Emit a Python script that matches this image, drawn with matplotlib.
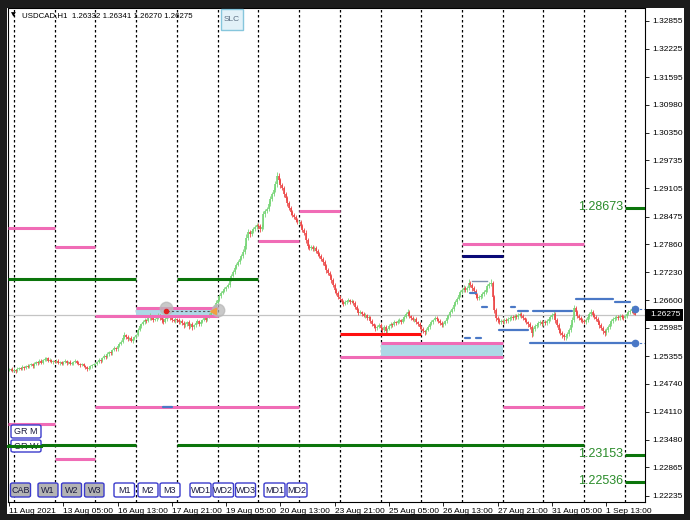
import matplotlib
matplotlib.use("Agg")
import matplotlib.pyplot as plt
from matplotlib.patches import Rectangle, FancyBboxPatch
import numpy as np

plt.rcParams['font.family'] = ['Liberation Sans', 'DejaVu Sans']

# ---------------- data ----------------
symbol_title = "USDCAD,H1  1.26332 1.26341 1.26270 1.26275"
last_price = 1.26275

days = ['11 Aug', '12 Aug', '13 Aug', '16 Aug', '17 Aug', '18 Aug', '19 Aug', '20 Aug',
        '23 Aug', '24 Aug', '25 Aug', '26 Aug', '27 Aug', '30 Aug', '31 Aug', '1 Sep', '2 Sep']

# hourly closes per trading day
c0811 = [1.2505, 1.2507, 1.2502]
c0812 = [1.2505, 1.2502, 1.2507, 1.2509, 1.2507, 1.2511, 1.2509, 1.2513, 1.2511, 1.2516, 1.2518, 1.2513,
         1.2518, 1.2522, 1.2520, 1.2525, 1.2520, 1.2527, 1.2529, 1.2531, 1.2525, 1.2527, 1.2522, 1.2525]
c0813 = [1.2522, 1.2525, 1.2520, 1.2522, 1.2518, 1.2522, 1.2525, 1.2520, 1.2522, 1.2518, 1.2520, 1.2522,
         1.2525, 1.2520, 1.2518, 1.2516, 1.2518, 1.2513, 1.2511, 1.2507, 1.2509, 1.2513, 1.2516, 1.2518]
c0816 = [1.2518, 1.2522, 1.2527, 1.2525, 1.2531, 1.2536, 1.2533, 1.2540, 1.2545, 1.2542, 1.2549, 1.2554,
         1.2551, 1.2558, 1.2563, 1.2567, 1.2576, 1.2583, 1.2578, 1.2574, 1.2576, 1.2569, 1.2574, 1.2578]
c0817 = [1.2583, 1.2594, 1.2603, 1.2607, 1.2612, 1.2616, 1.2614, 1.2621, 1.2625, 1.2621, 1.2616, 1.2618,
         1.2623, 1.2627, 1.2621, 1.2616, 1.2612, 1.2618, 1.2623, 1.2625, 1.2621, 1.2616, 1.2614, 1.2618]
c0818 = [1.2616, 1.2612, 1.2614, 1.2610, 1.2605, 1.2607, 1.2612, 1.2603, 1.2607, 1.2601, 1.2605, 1.2610,
         1.2614, 1.2607, 1.2612, 1.2616, 1.2621, 1.2616, 1.2623, 1.2627, 1.2632, 1.2639, 1.2645, 1.2654]
c0819 = [1.2661, 1.2670, 1.2677, 1.2681, 1.2686, 1.2690, 1.2695, 1.2706, 1.2715, 1.2724, 1.2733, 1.2739,
         1.2746, 1.2753, 1.2759, 1.2768, 1.2782, 1.2800, 1.2813, 1.2809, 1.2815, 1.2820, 1.2824, 1.2829]
c0820 = [1.2826, 1.2820, 1.2824, 1.2853, 1.2860, 1.2864, 1.2876, 1.2887, 1.2898, 1.2907, 1.2920, 1.2938,
         1.2929, 1.2918, 1.2911, 1.2898, 1.2889, 1.2878, 1.2867, 1.2858, 1.2851, 1.2846, 1.2840, 1.2835]
c0823 = [1.2835, 1.2826, 1.2818, 1.2811, 1.2795, 1.2782, 1.2777, 1.2779, 1.2775, 1.2777, 1.2771, 1.2764,
         1.2759, 1.2753, 1.2746, 1.2737, 1.2728, 1.2721, 1.2715, 1.2706, 1.2695, 1.2683, 1.2677, 1.2668]
c0824 = [1.2663, 1.2657, 1.2652, 1.2657, 1.2659, 1.2661, 1.2657, 1.2659, 1.2654, 1.2645, 1.2639, 1.2632,
         1.2634, 1.2630, 1.2625, 1.2627, 1.2621, 1.2623, 1.2614, 1.2607, 1.2603, 1.2598, 1.2601, 1.2605]
c0825 = [1.2598, 1.2594, 1.2601, 1.2592, 1.2596, 1.2603, 1.2607, 1.2605, 1.2612, 1.2610, 1.2614, 1.2616,
         1.2612, 1.2618, 1.2623, 1.2630, 1.2634, 1.2625, 1.2621, 1.2616, 1.2618, 1.2612, 1.2607, 1.2601]
c0826 = [1.2596, 1.2592, 1.2589, 1.2594, 1.2601, 1.2607, 1.2612, 1.2616, 1.2621, 1.2618, 1.2614, 1.2610,
         1.2605, 1.2607, 1.2614, 1.2621, 1.2627, 1.2634, 1.2641, 1.2650, 1.2657, 1.2663, 1.2672, 1.2679]
c0827 = [1.2683, 1.2688, 1.2683, 1.2688, 1.2699, 1.2695, 1.2688, 1.2681, 1.2672, 1.2665, 1.2668, 1.2670,
         1.2674, 1.2679, 1.2683, 1.2692, 1.2697, 1.2699, 1.2668, 1.2639, 1.2621, 1.2616, 1.2612, 1.2614]
c0830 = [1.2612, 1.2616, 1.2614, 1.2618, 1.2621, 1.2623, 1.2621, 1.2625, 1.2623, 1.2627, 1.2630, 1.2625,
         1.2621, 1.2616, 1.2612, 1.2607, 1.2601, 1.2587, 1.2596, 1.2603, 1.2605, 1.2610, 1.2612, 1.2607]
c0831 = [1.2612, 1.2610, 1.2614, 1.2618, 1.2623, 1.2627, 1.2630, 1.2616, 1.2605, 1.2594, 1.2587, 1.2583,
         1.2578, 1.2580, 1.2585, 1.2594, 1.2605, 1.2616, 1.2643, 1.2634, 1.2625, 1.2621, 1.2616, 1.2614]
c0901 = [1.2612, 1.2616, 1.2623, 1.2630, 1.2634, 1.2627, 1.2623, 1.2618, 1.2612, 1.2605, 1.2598, 1.2592,
         1.2587, 1.2594, 1.2601, 1.2607, 1.2614, 1.2618, 1.2621, 1.2623, 1.2621, 1.2625, 1.2623, 1.2621]
c0902 = [1.2625, 1.2630, 1.2634, 1.2636, 1.2641, 1.26332, 1.26275]

day_closes = [c0811, c0812, c0813, c0816, c0817, c0818, c0819, c0820, c0823, c0824,
              c0825, c0826, c0827, c0830, c0831, c0901, c0902]

# upper / lower wick length beyond the body, in pips, one line per trading day
wick_up_pips = [
    3, 2, 4,
    3, 2, 4, 2, 3, 5, 2, 3, 4, 2, 3, 3, 4, 2, 3, 5, 3, 2, 4, 3, 2, 4, 3, 2,
    2, 3, 4, 3, 2, 3, 4, 2, 3, 4, 2, 3, 3, 2, 4, 3, 2, 3, 2, 3, 4, 3, 2, 3,
    3, 2, 4, 3, 2, 4, 3, 5, 3, 4, 2, 4, 3, 5, 3, 4, 6, 7, 3, 4, 3, 5, 4, 3,
    3, 5, 4, 3, 4, 5, 3, 4, 6, 3, 4, 3, 5, 4, 3, 3, 4, 5, 3, 4, 3, 4, 3, 4,
    3, 4, 3, 4, 3, 4, 3, 4, 3, 4, 3, 3, 4, 3, 4, 3, 4, 3, 5, 4, 5, 4, 5, 6,
    4, 5, 4, 3, 4, 3, 5, 4, 4, 5, 4, 4, 5, 4, 5, 6, 7, 8, 6, 5, 5, 4, 5, 4,
    4, 5, 6, 7, 5, 6, 7, 6, 5, 6, 7, 9, 6, 5, 5, 6, 5, 4, 5, 4, 5, 4, 5, 4,
    5, 4, 4, 5, 6, 4, 5, 6, 4, 5, 4, 5, 4, 5, 4, 5, 4, 5, 4, 5, 4, 5, 4, 5,
    4, 3, 4, 5, 3, 4, 3, 4, 3, 4, 5, 3, 4, 3, 4, 5, 3, 4, 3, 4, 3, 4, 5, 4,
    4, 3, 4, 5, 3, 4, 5, 3, 4, 3, 4, 5, 3, 4, 5, 4, 6, 4, 3, 4, 3, 4, 3, 4,
    3, 4, 3, 4, 5, 3, 4, 3, 4, 5, 3, 4, 3, 4, 3, 4, 3, 4, 5, 4, 5, 4, 5, 4,
    5, 6, 4, 5, 8, 5, 4, 5, 4, 5, 4, 5, 4, 5, 4, 5, 4, 8, 5, 4, 5, 4, 5, 4,
    4, 5, 4, 5, 4, 5, 4, 5, 4, 5, 4, 5, 4, 3, 4, 3, 4, 3, 4, 5, 4, 5, 4, 5,
    4, 5, 4, 5, 4, 5, 6, 4, 5, 4, 5, 4, 5, 4, 5, 4, 5, 6, 7, 5, 4, 5, 4, 5,
    4, 5, 4, 5, 6, 4, 5, 4, 5, 4, 5, 4, 5, 4, 5, 4, 5, 4, 5, 4, 5, 4, 5, 4,
    4, 5, 4, 5, 6, 1, 1]
wick_dn_pips = [
    2, 3, 2,
    2, 4, 3, 3, 2, 3, 4, 2, 3, 3, 2, 4, 3, 2, 4, 3, 2, 3, 3, 4, 3, 2, 3, 4,
    3, 2, 3, 4, 3, 2, 3, 4, 2, 3, 3, 4, 2, 3, 3, 4, 3, 2, 4, 5, 3, 2, 3, 2,
    2, 3, 2, 4, 3, 2, 3, 2, 4, 3, 3, 2, 4, 3, 3, 2, 3, 3, 5, 4, 3, 2, 4, 3,
    4, 3, 3, 4, 3, 4, 5, 3, 4, 5, 4, 3, 3, 4, 5, 6, 4, 3, 4, 3, 5, 4, 3, 4,
    5, 4, 5, 4, 6, 5, 4, 7, 5, 6, 5, 4, 3, 5, 4, 3, 3, 4, 3, 3, 3, 2, 3, 3,
    3, 3, 4, 3, 3, 4, 3, 4, 3, 3, 4, 3, 3, 4, 3, 4, 5, 6, 5, 7, 5, 4, 4, 5,
    6, 7, 5, 4, 7, 5, 4, 5, 4, 5, 4, 6, 7, 6, 5, 6, 5, 6, 5, 6, 4, 5, 4, 5,
    4, 5, 6, 5, 7, 6, 4, 5, 4, 5, 6, 5, 4, 5, 6, 5, 6, 5, 4, 6, 5, 6, 5, 4,
    3, 4, 5, 3, 4, 3, 4, 3, 5, 4, 3, 4, 3, 4, 3, 4, 5, 3, 4, 5, 4, 6, 4, 3,
    5, 6, 4, 5, 4, 3, 4, 5, 3, 4, 3, 4, 5, 3, 4, 3, 4, 5, 4, 3, 4, 5, 4, 5,
    4, 5, 6, 4, 3, 4, 3, 4, 3, 4, 5, 4, 5, 4, 3, 4, 3, 4, 3, 4, 3, 4, 3, 4,
    4, 5, 4, 5, 4, 5, 6, 5, 6, 5, 4, 5, 4, 5, 4, 5, 4, 5, 6, 7, 8, 6, 5, 4,
    5, 4, 5, 4, 5, 4, 5, 4, 5, 4, 3, 4, 5, 4, 5, 6, 5, 9, 6, 5, 4, 5, 4, 5,
    5, 4, 5, 4, 5, 4, 5, 6, 5, 6, 5, 6, 7, 6, 5, 4, 5, 4, 5, 4, 5, 4, 5, 4,
    5, 4, 5, 4, 5, 4, 5, 4, 5, 6, 5, 6, 7, 5, 4, 5, 4, 5, 4, 5, 4, 5, 4, 5,
    3, 4, 3, 4, 3, 4, 1]

time_labels = ['11 Aug 2021', '13 Aug 05:00', '16 Aug 13:00', '17 Aug 21:00', '19 Aug 05:00',
               '20 Aug 13:00', '23 Aug 21:00', '25 Aug 05:00', '26 Aug 13:00', '27 Aug 21:00',
               '31 Aug 05:00', '1 Sep 13:00']
time_label_day = ['11 Aug', '13 Aug', '16 Aug', '17 Aug', '19 Aug', '20 Aug', '23 Aug', '25 Aug',
                  '26 Aug', '27 Aug', '31 Aug', '1 Sep']
time_label_hour = [21, 5, 13, 21, 5, 13, 21, 5, 13, 21, 5, 13]

price_ticks = [1.32855, 1.32225, 1.31595, 1.30980, 1.30350, 1.29735, 1.29105, 1.28475, 1.27860,
               1.27230, 1.26600, 1.25985, 1.25355, 1.24740, 1.24110, 1.23480, 1.22865, 1.22235]

# horizontal level objects: level, from day, to day
pink_levels = [1.28220, 1.27795, 1.26252, 1.26431, 1.27929, 1.28611, 1.27873, 1.25649, 1.25335,
               1.24217, 1.24217, 1.23848, 1.23055]
pink_from = ['11 Aug', '13 Aug', '16 Aug', '17 Aug', '20 Aug', '23 Aug', '27 Aug', '25 Aug', '24 Aug',
             '16 Aug', '30 Aug', '11 Aug', '13 Aug']
pink_to = ['13 Aug', '16 Aug', '19 Aug', '19 Aug', '23 Aug', '24 Aug', '1 Sep', '30 Aug', '30 Aug',
           '23 Aug', '1 Sep', '13 Aug', '16 Aug']
green_levels = [1.27086, 1.27086, 1.23357, 1.23357]
green_from = ['11 Aug', '18 Aug', '11 Aug', '18 Aug']
green_to = ['17 Aug', '20 Aug', '17 Aug', '1 Sep']
red_level, red_from, red_to = 1.25839, '24 Aug', '26 Aug'
navy_level, navy_from, navy_to = 1.27594, '27 Aug', '30 Aug'
zone_low = [1.26252, 1.25335]
zone_high = [1.26431, 1.25649]
zone_from = ['17 Aug', '25 Aug']
zone_to = ['19 Aug', '30 Aug']
target_levels = [1.28673, 1.23153, 1.22536]

# blue trade-level marks: level, start bar, end bar
blue_levels = [1.25939, 1.25655, 1.26364, 1.26364, 1.26453, 1.26626, 1.26565, 1.26767, 1.26453,
               1.25760, 1.25760, 1.24217]
blue_start = [289, 307, 300, 309, 296, 334, 357, 272, 279, 269, 275, 91]
blue_end = [306, 369, 306, 332, 298, 356, 366, 275, 282, 272, 278, 96]
blue_dot_bars = [369, 369]
blue_dot_levels = [1.25655, 1.26409]
gray_trend_level, gray_trend_start, gray_trend_end = 1.27035, 273, 282

# ---------------- figure ----------------
W, H = 690, 520
fig = plt.figure(figsize=(W / 100, H / 100), dpi=100, facecolor='#1c1c1c')


def fx(px):
    return px / W


def fy(py):
    return 1 - py / H


fig.patches.append(Rectangle((fx(7), fy(514)), fx(684) - fx(7), fy(8) - fy(514),
                             transform=fig.transFigure, facecolor='white', edgecolor='none', zorder=-10))

ax = fig.add_axes([fx(8), fy(502), fx(645) - fx(8), fy(8) - fy(502)])
ax.set_zorder(1)
ax.set_facecolor('white')

closes = np.array(sum(day_closes, []))
n = len(closes)
idx = np.arange(n)
opens = np.r_[closes[0], closes[:-1]]
highs = np.maximum(opens, closes) + np.array(wick_up_pips) * 0.0001
lows = np.minimum(opens, closes) - np.array(wick_dn_pips) * 0.0001
day_start = {}
s = 0
for d, c in zip(days, day_closes):
    day_start[d] = s
    s += len(c)


def bar_of(d):
    return -0.6 if d == days[0] else day_start[d]


PX = 1.697  # bar spacing in pixels
x_left = -0.536
x_right = x_left + (645 - 8) / PX
ax.set_xlim(x_left, x_right)
ax.set_ylim(1.22093, 1.33139)

# day separators
for d in days[1:]:
    ax.axvline(day_start[d], color='black', lw=0.9, ls=(0, (2, 2)), zorder=1)

# current price line
ax.axhline(last_price, color='#c4c4c4', lw=0.9, zorder=1)

# zones
for lo_, hi_, f, t in zip(zone_low, zone_high, zone_from, zone_to):
    ax.add_patch(Rectangle((bar_of(f), lo_), bar_of(t) - bar_of(f), hi_ - lo_,
                           facecolor='#add8e6', edgecolor='none', zorder=2))

# candles
up = closes >= opens
bull, bear = '#78d578', '#ec4848'
ax.vlines(idx[up], lows[up], highs[up], color=bull, lw=0.6, zorder=3)
ax.vlines(idx[~up], lows[~up], highs[~up], color=bear, lw=0.6, zorder=3)
b_lo = np.minimum(opens, closes) - 0.00004
b_hi = np.maximum(opens, closes) + 0.00004
ax.vlines(idx[up], b_lo[up], b_hi[up], color=bull, lw=1.2, zorder=3)
ax.vlines(idx[~up], b_lo[~up], b_hi[~up], color=bear, lw=1.2, zorder=3)

# level lines
for lv, f, t in zip(pink_levels, pink_from, pink_to):
    ax.plot([bar_of(f), bar_of(t)], [lv, lv], color='#f06cb6', lw=2.2, solid_capstyle='butt', zorder=4)
for lv, f, t in zip(green_levels, green_from, green_to):
    ax.plot([bar_of(f), bar_of(t)], [lv, lv], color='#0b750b', lw=2.2, solid_capstyle='butt', zorder=6)
ax.plot([bar_of(red_from), bar_of(red_to)], [red_level] * 2, color='#ff1010', lw=2.2,
        solid_capstyle='butt', zorder=4)
ax.plot([bar_of(navy_from), bar_of(navy_to)], [navy_level] * 2, color='#0a0a78', lw=2.2,
        solid_capstyle='butt', zorder=4)

for lv in target_levels:
    ax.plot([day_start['2 Sep'], x_right], [lv, lv], color='#0b750b', lw=2.2, solid_capstyle='butt', zorder=4)
    ax.text(day_start['2 Sep'] - 1.2, lv + 0.0002, f"{lv:.5f}", color='#2a8c2a', fontsize=9,
            ha='right', va='center', zorder=7)

# blue marks
for lv, a, b in zip(blue_levels, blue_start, blue_end):
    ax.plot([a, b], [lv, lv], color='#4a78c6', lw=1.6, solid_capstyle='round', zorder=5)
ax.plot([gray_trend_start, gray_trend_end], [gray_trend_level] * 2, color='#7d8fae', lw=1.0, zorder=5)
for b, lv in zip(blue_dot_bars, blue_dot_levels):
    ax.plot([b, x_right], [lv, lv], color='#4a78c6', lw=0.8, ls=(0, (2, 2)), zorder=5)
    ax.plot([b], [lv], 'o', color='#4a78c6', ms=4.5, zorder=6)

# markers in the 17-18 Aug zone
ax.plot([92.6, 123.2], [1.26431, 1.26386], 'o', color='#b8b8b8', ms=9, alpha=0.75, zorder=5)
ax.plot([93, 121], [1.26364, 1.26364], color='#555555', lw=0.8, ls=(0, (2, 2)), zorder=6)
ax.plot([92.6], [1.26364], 'o', color='#e02020', ms=3, zorder=7)
ax.plot([120.3], [1.26364], '<', color='#f0a040', ms=4, zorder=7)

# axes styling
for sp in ax.spines.values():
    sp.set_color('black')
    sp.set_linewidth(0.8)
ax.yaxis.tick_right()
ax.set_yticks(price_ticks)
ax.set_yticklabels([f"{p:.5f}" for p in price_ticks], fontsize=6)
ax.tick_params(axis='y', length=3, width=0.6, pad=2, colors='black')
xt = [day_start[d] + (h - (21 if d == days[0] else 0)) for d, h in zip(time_label_day, time_label_hour)]
ax.set_xticks(xt)
ax.set_xticklabels(time_labels, fontsize=6, ha='left')
ax.tick_params(axis='x', length=3, width=0.6, pad=1.5, colors='black')

# current price box
fig.patches.append(Rectangle((fx(646), fy(321)), fx(683) - fx(646), fy(309) - fy(321),
                             transform=fig.transFigure, facecolor='black', edgecolor='none', zorder=5))
fig.text(fx(650), fy(315), f"{last_price:.5f}", color='white', fontsize=6, va='center', ha='left', zorder=6)

# title
fig.text(fx(11), fy(15), "\u25BC", fontsize=4.5, va='center', ha='left', color='black',
         family=['DejaVu Sans'], zorder=6)
fig.text(fx(22), fy(15.5), symbol_title, fontsize=5.7, va='center', ha='left', color='black', zorder=6)

# SLC button
fig.patches.append(FancyBboxPatch((fx(221), fy(30)), fx(243) - fx(221), fy(9) - fy(30),
                                  boxstyle='square,pad=0', transform=fig.transFigure,
                                  facecolor='#e2f1f8', edgecolor='#86c6dc', lw=1.0, zorder=5))
fig.text(fx(232), fy(19.5), "SLC", fontsize=6, color='#5b6e82', ha='center', va='center', zorder=6)


def button(x0, x1, y0, y1, label, fill):
    fig.patches.append(FancyBboxPatch((fx(x0), fy(y1)), fx(x1) - fx(x0), fy(y0) - fy(y1),
                                      boxstyle='round,pad=0,rounding_size=0.003',
                                      transform=fig.transFigure, facecolor=fill,
                                      edgecolor='#3b3bcc', lw=1.0, zorder=5))
    fig.text(fx((x0 + x1) / 2), fy((y0 + y1) / 2 + 0.5), label, fontsize=6.5, color='#1a1a40',
             ha='center', va='center', zorder=6)


btn_names = ['CAB', 'W1', 'W2', 'W3', 'M1', 'M2', 'M3', 'WD1', 'WD2', 'WD3', 'MD1', 'MD2']
btn_x0 = [10.5, 38, 61.5, 84.5, 114, 138, 160, 190, 213, 235.5, 264, 287]
btn_x1 = [30.5, 58, 81.5, 104, 134.5, 158, 180, 211, 233.5, 255.5, 285, 307]
for nm, a, b in zip(btn_names, btn_x0, btn_x1):
    button(a, b, 483, 497, nm, '#b3b3b3' if nm in ('CAB', 'W1', 'W2', 'W3') else 'white')

button(11, 41, 425, 438, 'GR M', 'white')
button(11, 41, 440, 452, 'GR W', 'white')
# green line over the GR W button
fig.lines.append(plt.Line2D([fx(8), fx(41)], [fy(445.5), fy(445.5)], transform=fig.transFigure,
                            color='#0b750b', lw=2.2, zorder=7))

fig.savefig('out.png', dpi=100, facecolor=fig.get_facecolor())
